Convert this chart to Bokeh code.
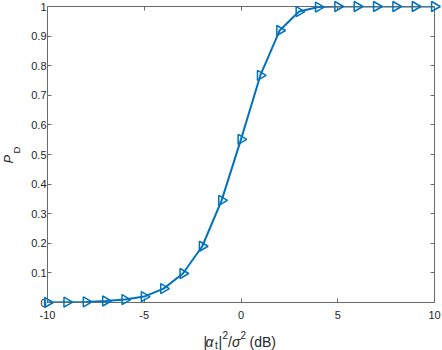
import numpy as np
from bokeh.plotting import figure
from bokeh.models import Range1d, FixedTicker, LinearAxis, ColumnDataSource
from bokeh.core.properties import value
from bokeh.embed import file_html
from bokeh.resources import INLINE

# ---- data ----
snr_db = [-10, -9, -8, -7, -6, -5, -4, -3, -2, -1, 0, 1, 2, 3, 4, 5, 6, 7, 8, 9, 10]
p_d = [0.0, 0.001, 0.002, 0.005, 0.01, 0.02, 0.047, 0.098, 0.19, 0.345, 0.551,
       0.767, 0.919, 0.983, 0.998, 1.0, 1.0, 1.0, 1.0, 1.0, 1.0]
x_ticks = [-10, -5, 0, 5, 10]
x_tick_labels = ["-10", "-5", "0", "5", "10"]
y_ticks = [0, 0.1, 0.2, 0.3, 0.4, 0.5, 0.6, 0.7, 0.8, 0.9, 1]
y_tick_labels = ["0", "0.1", "0.2", "0.3", "0.4", "0.5", "0.6", "0.7", "0.8", "0.9", "1"]
x_label_parts = ["|", "\u03b1", "t", "|", "2", "/", "\u03c3", "2", "(dB)"]
y_label_parts = ["P", "D"]

BLUE = "#0072BD"
AX = "#6a6a6a"
TXT = "#262626"
FONT = "Liberation Sans"

p = figure(width=442, height=350, output_backend="svg", toolbar_location=None,
           x_range=Range1d(-10, 10), y_range=Range1d(0, 1),
           min_border_left=47, min_border_right=8, min_border_top=6, min_border_bottom=48)
p.grid.visible = False
p.outline_line_color = None
p.background_fill_color = "white"
p.border_fill_color = "white"


def style(ax, ticks, labels, show):
    ax.ticker = FixedTicker(ticks=ticks)
    ax.axis_line_color = AX
    ax.axis_line_width = 1
    ax.major_tick_line_color = AX
    ax.major_tick_in = 4
    ax.major_tick_out = 0
    ax.minor_tick_line_color = None
    ax.major_label_text_font = FONT
    ax.major_label_text_color = TXT
    if show:
        ax.major_label_overrides = {t: l for t, l in zip(ticks, labels)}
        ax.major_label_text_font_size = "11px"
    else:
        ax.major_label_overrides = {t: "" for t in ticks}
        ax.major_label_text_font_size = "0px"
    ax.major_label_standoff = 0


style(p.xaxis[0], x_ticks, x_tick_labels, True)
p.xaxis[0].major_label_standoff = 8
style(p.yaxis[0], y_ticks, y_tick_labels, True)
p.yaxis[0].major_label_standoff = 1

top = LinearAxis()
style(top, x_ticks, x_tick_labels, False)
p.add_layout(top, "above")
right = LinearAxis()
style(right, y_ticks, y_tick_labels, False)
p.add_layout(right, "right")

p.line(snr_db, p_d, line_color=BLUE, line_width=2)
p.scatter(snr_db, p_d, marker="triangle", size=10, angle=-np.pi / 2,
          fill_color=None, line_color=BLUE, line_width=1.5, level="overlay")

# ---- x label: |alpha_t|^2/sigma^2 (dB) ----
n = len(x_label_parts)
xsrc = ColumnDataSource(dict(
    x=[0] * n, y=[0] * n, text=x_label_parts,
    xo=[-37.5, -35.5, -26, -22.5, -18.5, -13, -9, -0.5, 8.5],
    yo=[39, 39, 43, 39, 32, 39, 39, 32, 39],
    fs=["14px", "14px", "10px", "14px", "10px", "14px", "14px", "10px", "14px"],
    st=["normal", "italic", "normal", "normal", "normal", "normal", "italic", "normal", "normal"],
))
p.text(x="x", y="y", text="text", x_offset="xo", y_offset="yo", source=xsrc,
       text_font=value(FONT), text_font_size="fs", text_font_style="st",
       text_color=TXT, text_align="left", text_baseline="alphabetic", level="overlay")

# ---- y label: P_D ----
ysrc = ColumnDataSource(dict(
    x=[-10, -10], y=[0.5, 0.5], text=y_label_parts,
    xo=[-39, -31], yo=[9, -1], fs=["13px", "9.5px"], st=["italic", "normal"],
))
p.text(x="x", y="y", text="text", x_offset="xo", y_offset="yo", source=ysrc,
       angle=np.pi / 2, text_font=value(FONT), text_font_size="fs", text_font_style="st",
       text_color=TXT, text_align="left", text_baseline="alphabetic", level="overlay")

open("out.html", "w").write(file_html(p, INLINE))
